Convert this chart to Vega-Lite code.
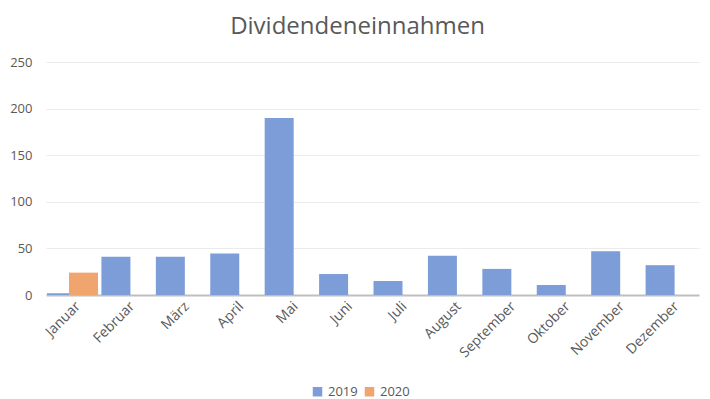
{
  "$schema": "https://vega.github.io/schema/vega-lite/v6.json",
  "width": 653,
  "height": 233,
  "autosize": {"type": "none"},
  "padding": {"left": 46, "top": 62, "right": 11, "bottom": 104},
  "background": "white",
  "title": {
    "text": "Dividendeneinnahmen",
    "font": "Open Sans",
    "fontSize": 24,
    "fontWeight": "normal",
    "color": "#595959",
    "anchor": "middle",
    "offset": 17,
    "dx": -15
  },
  "data": {
    "values": [
      {"Monat": "Januar", "Jahr": "2019", "Wert": 2},
      {"Monat": "Februar", "Jahr": "2019", "Wert": 41},
      {"Monat": "März", "Jahr": "2019", "Wert": 41},
      {"Monat": "April", "Jahr": "2019", "Wert": 44.5},
      {"Monat": "Mai", "Jahr": "2019", "Wert": 190},
      {"Monat": "Juni", "Jahr": "2019", "Wert": 22.5},
      {"Monat": "Juli", "Jahr": "2019", "Wert": 15},
      {"Monat": "August", "Jahr": "2019", "Wert": 42},
      {"Monat": "September", "Jahr": "2019", "Wert": 28},
      {"Monat": "Oktober", "Jahr": "2019", "Wert": 10.7},
      {"Monat": "November", "Jahr": "2019", "Wert": 47},
      {"Monat": "Dezember", "Jahr": "2019", "Wert": 32},
      {"Monat": "Januar", "Jahr": "2020", "Wert": 24}
    ]
  },
  "encoding": {
    "x": {
      "field": "Monat",
      "type": "nominal",
      "sort": ["Januar","Februar","März","April","Mai","Juni","Juli","August","September","Oktober","November","Dezember"],
      "scale": {"paddingInner": 0, "paddingOuter": 0},
      "axis": {
        "title": null,
        "labelAngle": -45,
        "labelAlign": "right",
        "labelBaseline": "top",
        "labelFont": "Open Sans",
        "labelFontSize": 14,
        "labelColor": "#595959",
        "labelPadding": 4,
        "ticks": false,
        "domainColor": "#bfbfbf",
        "domainWidth": 2,
        "grid": false
      }
    },
    "y": {
      "field": "Wert",
      "type": "quantitative",
      "scale": {"domain": [0, 250]},
      "axis": {
        "title": null,
        "values": [0, 50, 100, 150, 200, 250],
        "labelFont": "Open Sans",
        "labelFontSize": 13,
        "labelColor": "#595959",
        "labelPadding": 14,
        "ticks": false,
        "domain": false,
        "gridColor": "#ebebeb",
        "gridWidth": 1
      }
    },
    "color": {
      "field": "Jahr",
      "type": "nominal",
      "scale": {"domain": ["2019", "2020"], "range": ["#7d9dd8", "#f0a56e"]},
      "legend": {
        "title": null,
        "orient": "none",
        "direction": "horizontal",
        "legendX": 265,
        "legendY": 323,
        "symbolType": "square",
        "symbolSize": 90,
        "symbolStrokeWidth": 0,
        "labelFont": "Open Sans",
        "labelFontSize": 13,
        "labelColor": "#595959",
        "columnPadding": 5
      }
    }
  },
  "layer": [
    {
      "transform": [{"filter": "datum.Jahr == '2019'"}],
      "mark": {"type": "bar", "width": 29, "xOffset": -11.7}
    },
    {
      "transform": [{"filter": "datum.Jahr == '2020'"}],
      "mark": {"type": "bar", "width": 29, "xOffset": 10.3}
    }
  ],
  "config": {"view": {"stroke": null}}
}
